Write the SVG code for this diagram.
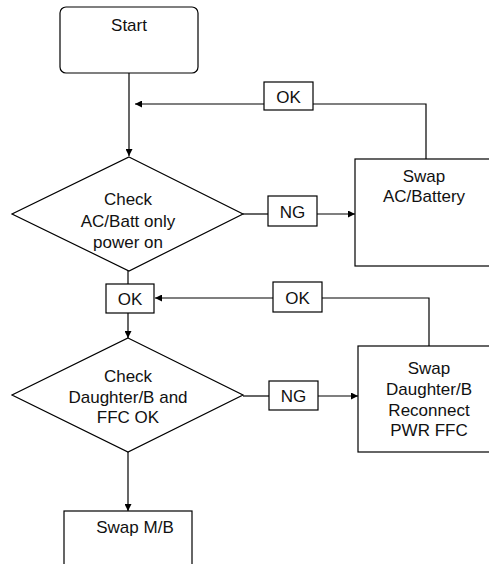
<svg xmlns="http://www.w3.org/2000/svg" width="489" height="564" viewBox="0 0 489 564">
<defs>
<marker id="arr" viewBox="0 0 7 7" refX="7" refY="3.5" markerWidth="7" markerHeight="7" markerUnits="userSpaceOnUse" orient="auto">
<path d="M0,0 L7,3.5 L0,7 z" fill="#000"/>
</marker>
<style>
.shape{fill:#fff;stroke:#000;stroke-width:1.2}
.conn{fill:none;stroke:#000;stroke-width:1.2}
text{font-family:"Liberation Sans",Arial,sans-serif;font-size:17px;fill:#111;text-anchor:middle}
</style>
</defs>
<rect width="489" height="564" fill="#fff"/>
<g id="connectors">
<path class="conn" d="M129,73 V156" marker-end="url(#arr)"/>
<path class="conn" d="M426,159 V104 H313"/>
<path class="conn" d="M264,104 H135" marker-end="url(#arr)"/>
<path class="conn" d="M243,214 H268"/>
<path class="conn" d="M317,214 H355" marker-end="url(#arr)"/>
<path class="conn" d="M128,271 V284"/>
<path class="conn" d="M128,313 V338" marker-end="url(#arr)"/>
<path class="conn" d="M429,346 V298 H322"/>
<path class="conn" d="M273,298 H155" marker-end="url(#arr)"/>
<path class="conn" d="M243,396 H269"/>
<path class="conn" d="M318,396 H358" marker-end="url(#arr)"/>
<path class="conn" d="M128,452 V511" marker-end="url(#arr)"/>
<g id="label-ok1"><rect class="shape" x="264" y="82" width="49" height="28"/><text x="288.5" y="103">OK</text></g>
<g id="label-ng1"><rect class="shape" x="268" y="196" width="49" height="30"/><text x="292.5" y="218">NG</text></g>
<g id="label-ok2"><rect class="shape" x="106" y="284" width="48" height="29"/><text x="130" y="305">OK</text></g>
<g id="label-ok3"><rect class="shape" x="273" y="282" width="49" height="30"/><text x="297.5" y="304">OK</text></g>
<g id="label-ng2"><rect class="shape" x="269" y="381" width="49" height="29"/><text x="293.5" y="402">NG</text></g>
</g>
<g id="start"><rect class="shape" x="60" y="7" width="138" height="66" rx="6"/><text x="129" y="31">Start</text></g>
<g id="check-ac"><polygon class="shape" points="129,157 243,214 129,271 12,214"/><text x="128" y="205">Check</text><text x="128" y="227">AC/Batt only</text><text x="128" y="248">power on</text></g>
<g id="swap-ac"><rect class="shape" x="355" y="159" width="150" height="107"/><text x="424" y="182">Swap</text><text x="424" y="202">AC/Battery</text></g>
<g id="check-db"><polygon class="shape" points="128,338 243,395 128,452 12,395"/><text x="128" y="382">Check</text><text x="128" y="403">Daughter/B and</text><text x="128" y="423">FFC OK</text></g>
<g id="swap-db"><rect class="shape" x="358" y="346" width="150" height="106"/><text x="429" y="374">Swap</text><text x="429" y="395">Daughter/B</text><text x="429" y="416">Reconnect</text><text x="429" y="436">PWR FFC</text></g>
<g id="swap-mb"><rect class="shape" x="64" y="511" width="128" height="70"/><text x="135" y="533">Swap M/B</text></g>
</svg>
